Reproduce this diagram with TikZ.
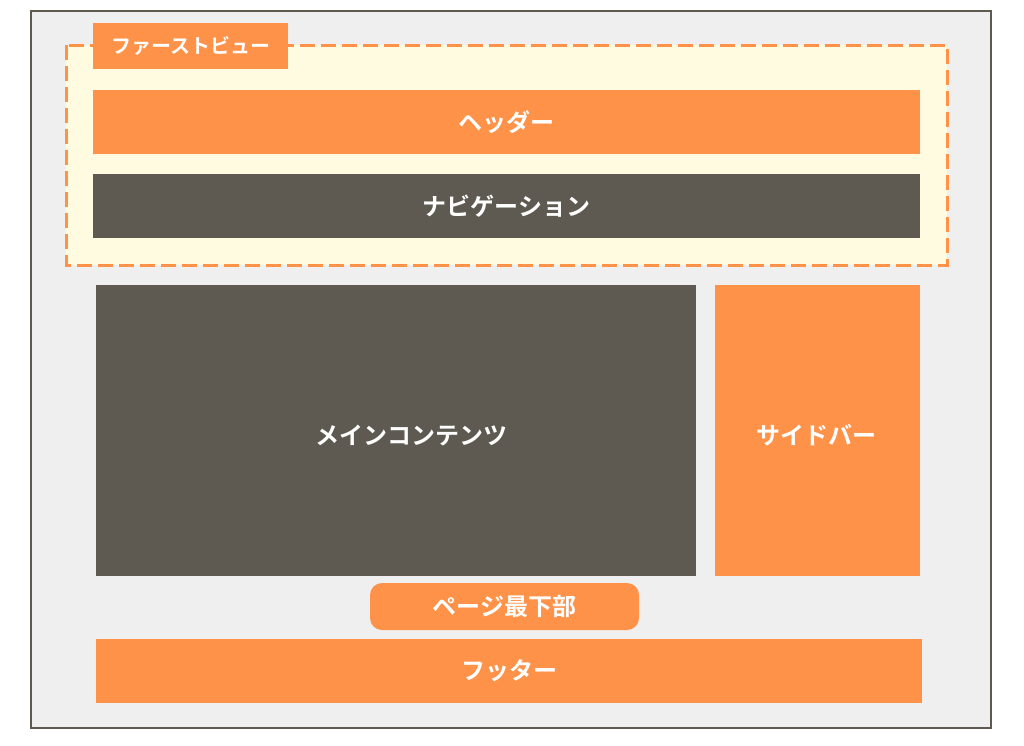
\documentclass[tikz,border=0pt]{standalone}
\usepackage{fontspec}
\newfontfamily\jpfont{Noto Sans CJK JP Bold}
\definecolor{orng}{HTML}{FF9249}
\definecolor{dgray}{HTML}{5E5A51}
\definecolor{cream}{HTML}{FFFBE0}
\definecolor{bggray}{HTML}{EFEFEF}
\tikzset{
  blk/.style={inner sep=0pt, text=white, font=\jpfont\fontsize{24}{28}\selectfont},
  obox/.style={blk, fill=orng},
  dbox/.style={blk, fill=dgray},
  lbl/.style={text=white, inner sep=0pt, font=\jpfont\fontsize{24}{28}\selectfont},
}
\begin{document}
\begin{tikzpicture}[x=1pt,y=-1pt]
\useasboundingbox (0,0) rectangle (1024,745);
\fill[white] (0,0) rectangle (1024,745);
\draw[dgray, line width=2pt, fill=bggray] (31,11) rectangle (991,728);
\draw[orng, line width=3pt, fill=cream, dash pattern=on 15pt off 6pt] (66,45) rectangle (947,265);
\node[obox, minimum width=195pt, minimum height=46pt, font=\jpfont\fontsize{20}{24}\selectfont] (fv) at (190.5,46) {ファーストビュー};
\node[obox, minimum width=827pt, minimum height=64pt] (hd) at (506.5,122) {ヘッダー};
\node[dbox, minimum width=827pt, minimum height=64pt] (nav) at (506.5,206) {ナビゲーション};
\node[dbox, minimum width=600pt, minimum height=291pt] (main) at (396,430.5) {};
\node[lbl] (maint) at ([xshift=15pt,yshift=-5pt]main.center) {メインコンテンツ};
\node[obox, minimum width=205pt, minimum height=291pt] (side) at (817.5,430.5) {};
\node[lbl] (sidet) at ([xshift=-1pt,yshift=-5pt]side.center) {サイドバー};
\node[obox, rounded corners=12pt, minimum width=269pt, minimum height=47pt] (bot) at (504.5,606.5) {ページ最下部};
\node[obox, minimum width=826pt, minimum height=64pt] (ft) at (509,671) {フッター};
\end{tikzpicture}
\end{document}
